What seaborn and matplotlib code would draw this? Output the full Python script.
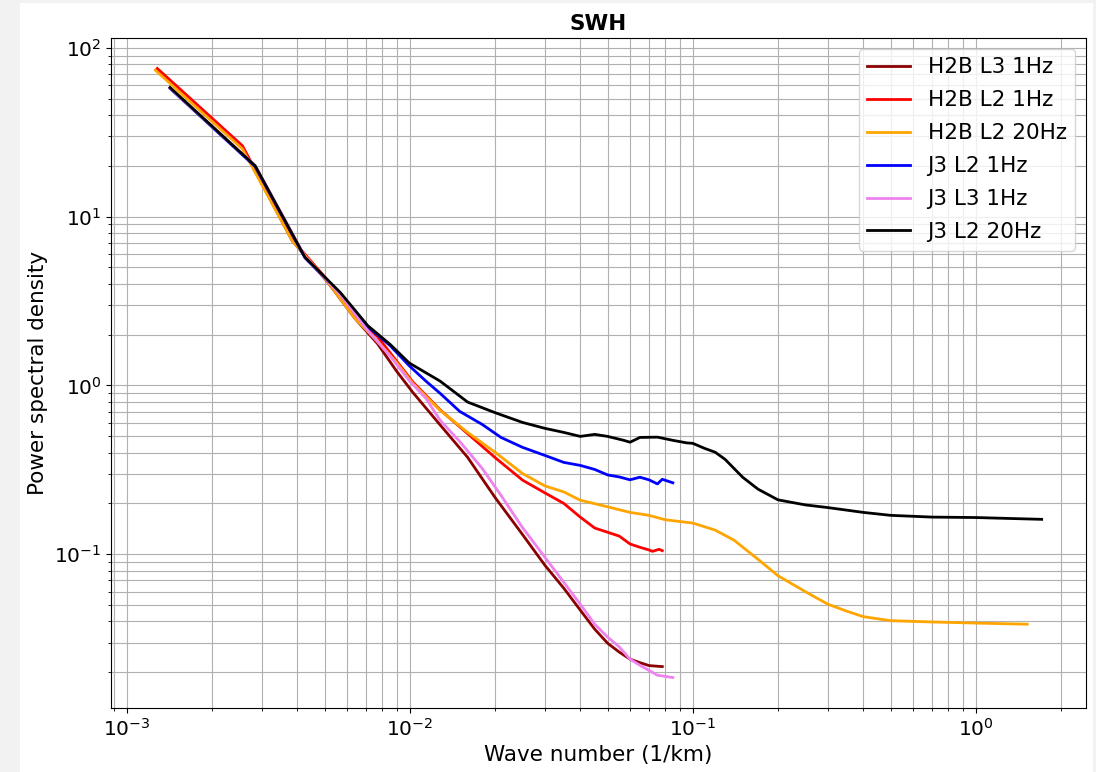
import numpy as np
import pandas as pd
import matplotlib
matplotlib.use('Agg')
import matplotlib.pyplot as plt
import seaborn as sns

# wavenumber (1/km) and PSD
h2b_l3_1hz_k = [1.28e-3, 2.56e-3, 3.84e-3, 5.12e-3, 6.4e-3, 7.68e-3, 8.96e-3, 0.01024, 0.0128, 0.016,
                0.02, 0.025, 0.03, 0.035, 0.04, 0.045, 0.05, 0.055, 0.06, 0.065, 0.07, 0.075, 0.078]
h2b_l3_1hz_psd = [74.5, 25.8, 7.2, 4.1, 2.49, 1.77, 1.22, 0.91, 0.583, 0.375,
                  0.217, 0.131, 0.0861, 0.0629, 0.0467, 0.036, 0.0297, 0.0263, 0.0239, 0.0228, 0.0219, 0.0217, 0.0216]

h2b_l2_1hz_k = [1.28e-3, 2.56e-3, 3.84e-3, 5.12e-3, 6.4e-3, 7.68e-3, 8.96e-3, 0.01024, 0.0128, 0.016,
                0.02, 0.025, 0.03, 0.035, 0.04, 0.045, 0.05, 0.055, 0.06, 0.065, 0.07, 0.072, 0.076, 0.078]
h2b_l2_1hz_psd = [75.5, 26.3, 7.3, 4.2, 2.59, 1.95, 1.40, 1.05, 0.716, 0.518,
                  0.374, 0.275, 0.231, 0.200, 0.166, 0.143, 0.135, 0.128, 0.115, 0.110, 0.106, 0.104, 0.107, 0.105]

h2b_l2_20hz_k = [1.26e-3, 2.56e-3, 3.84e-3, 5.12e-3, 6.4e-3, 7.68e-3, 8.96e-3, 0.01024, 0.0128, 0.016,
                 0.02, 0.025, 0.03, 0.035, 0.04, 0.05, 0.06, 0.07, 0.08, 0.1, 0.12, 0.14, 0.17, 0.2,
                 0.25, 0.3, 0.35, 0.4, 0.5, 0.7, 1.0, 1.52]
h2b_l2_20hz_psd = [73.8, 25.2, 7.2, 4.12, 2.49, 1.83, 1.37, 1.03, 0.711, 0.527,
                   0.402, 0.301, 0.254, 0.234, 0.209, 0.191, 0.177, 0.170, 0.160, 0.153, 0.139, 0.121, 0.0933, 0.0746,
                   0.060, 0.0506, 0.046, 0.0427, 0.0404, 0.0397, 0.0391, 0.0385]

j3_l2_1hz_k = [1.42e-3, 2.84e-3, 4.26e-3, 5.68e-3, 7.1e-3, 8.52e-3, 9.94e-3, 0.0114, 0.0128, 0.015,
               0.018, 0.021, 0.025, 0.03, 0.035, 0.04, 0.045, 0.05, 0.055, 0.06, 0.065, 0.07, 0.075, 0.078, 0.085]
j3_l2_1hz_psd = [57.5, 19.8, 5.7, 3.5, 2.23, 1.72, 1.31, 1.06, 0.897, 0.702,
                 0.588, 0.492, 0.430, 0.385, 0.350, 0.336, 0.318, 0.295, 0.287, 0.276, 0.286, 0.276, 0.261, 0.278, 0.265]

j3_l3_1hz_k = [1.42e-3, 2.84e-3, 4.26e-3, 5.68e-3, 7.1e-3, 8.52e-3, 9.94e-3, 0.0114, 0.0128, 0.015,
               0.018, 0.021, 0.025, 0.03, 0.035, 0.04, 0.045, 0.05, 0.055, 0.06, 0.065, 0.07, 0.075, 0.085]
j3_l3_1hz_psd = [57.8, 20.1, 5.8, 3.45, 2.11, 1.49, 1.07, 0.838, 0.621, 0.466,
                 0.323, 0.223, 0.144, 0.096, 0.0682, 0.0506, 0.0385, 0.0323, 0.0282, 0.0239, 0.0220, 0.0205, 0.0192, 0.0186]

j3_l2_20hz_k = [1.42e-3, 2.84e-3, 4.26e-3, 5.68e-3, 7.1e-3, 8.52e-3, 9.94e-3, 0.0128, 0.016, 0.02,
                0.025, 0.03, 0.035, 0.04, 0.045, 0.05, 0.057, 0.06, 0.065, 0.075, 0.085, 0.095, 0.1, 0.11,
                0.12, 0.13, 0.15, 0.17, 0.2, 0.25, 0.3, 0.4, 0.5, 0.7, 1.0, 1.3, 1.71]
j3_l2_20hz_psd = [58.2, 20.0, 5.74, 3.55, 2.26, 1.75, 1.36, 1.06, 0.797, 0.69,
                  0.604, 0.557, 0.527, 0.499, 0.513, 0.499, 0.473, 0.461, 0.492, 0.494, 0.473, 0.457, 0.454, 0.424,
                  0.402, 0.365, 0.286, 0.243, 0.210, 0.196, 0.189, 0.177, 0.170, 0.166, 0.165, 0.163, 0.161]

series = [
    ("H2B L3 1Hz", h2b_l3_1hz_k, h2b_l3_1hz_psd, "darkred"),
    ("H2B L2 1Hz", h2b_l2_1hz_k, h2b_l2_1hz_psd, "red"),
    ("H2B L2 20Hz", h2b_l2_20hz_k, h2b_l2_20hz_psd, "orange"),
    ("J3 L2 1Hz", j3_l2_1hz_k, j3_l2_1hz_psd, "blue"),
    ("J3 L3 1Hz", j3_l3_1hz_k, j3_l3_1hz_psd, "violet"),
    ("J3 L2 20Hz", j3_l2_20hz_k, j3_l2_20hz_psd, "black"),
]

fig = plt.figure(figsize=(10.96, 7.72), dpi=100)
# grey notebook border round the white figure
fig.patch.set_facecolor('#f2f2f2')
fig.add_artist(plt.Rectangle((20 / 1096, 0), 1073 / 1096, 769 / 772, transform=fig.transFigure,
                             facecolor='white', edgecolor='none', zorder=-1))
ax = fig.add_axes([111 / 1096, 64 / 772, 975 / 1096, 670 / 772])

for name, k, p, c in series:
    sns.lineplot(x=k, y=p, color=c, label=name, linewidth=2, sort=False, ax=ax)

ax.set_xscale('log')
ax.set_yscale('log')
ax.grid(True, which='both')
ax.set_title('SWH', fontsize=15.5, fontweight='bold')
ax.set_xlabel('Wave number (1/km)', fontsize=15.5)
ax.set_ylabel('Power spectral density', fontsize=15.5)
ax.tick_params(labelsize=14.5)
ax.legend(loc='upper right', fontsize=15.5, labelspacing=0.6)

fig.savefig('out.png', dpi=100)
